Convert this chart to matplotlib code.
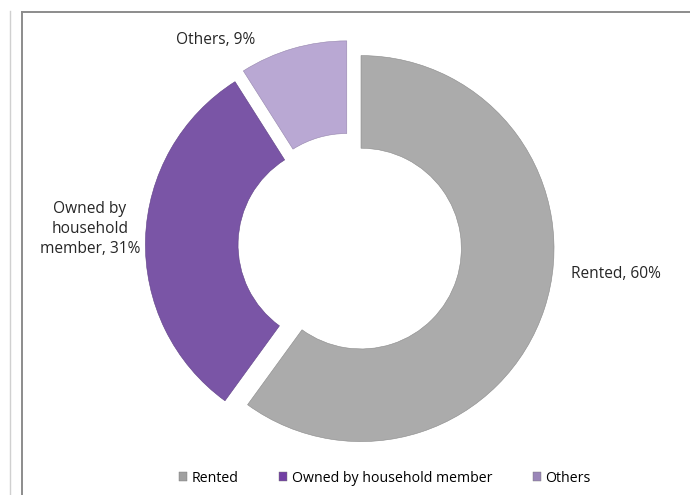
import matplotlib
matplotlib.use("Agg")
import matplotlib.pyplot as plt
from matplotlib.lines import Line2D
from matplotlib.patches import Patch

categories = ["Rented", "Owned by household member", "Others"]
shares = [60, 31, 9]
label_texts = ["Rented, 60%", "Owned by\nhousehold\nmember, 31%", "Others, 9%"]
colors = ["#ABABAB", "#7A55A6", "#B9A8D3"]
legend_colors = ["#A0A0A0", "#7240A4", "#9A86B8"]

plt.rcParams["font.family"] = ["Open Sans", "DejaVu Sans"]

W, H = 690, 495
fig = plt.figure(figsize=(W / 100, H / 100), dpi=100)

# donut centre at (350, 245) px, outer radius 193 px
cx, cy, rpx = 350, 245, 193
half = 230
ax = fig.add_axes([(cx - half) / W, (H - cy - half) / H, 2 * half / W, 2 * half / H])
lim = half / rpx

wedges, _ = ax.pie(
    shares,
    colors=colors,
    startangle=90,
    counterclock=False,
    explode=[0.06, 0.06, 0.06],
    radius=1.0,
    wedgeprops=dict(width=0.48, edgecolor="#8a8a8a", linewidth=0.4),
    frame=True,
)
ax.set_xlim(-lim, lim)
ax.set_ylim(-lim, lim)
ax.set_aspect("equal")
ax.axis("off")
wedges[1].set_edgecolor("#5e3f85")
wedges[2].set_edgecolor("#9585ad")


def px2data(px, py):
    return (px - cx) / rpx, (cy - py) / rpx


label_pos = [(616, 274), (90, 229), (216, 40)]
for txt, (px, py) in zip(label_texts, label_pos):
    x, y = px2data(px, py)
    ax.text(x, y, txt, ha="center", va="center", fontsize=11.2,
            color="#262626", linespacing=1.3)

handles = [Patch(facecolor=c, edgecolor="#777777", linewidth=0.3) for c in legend_colors]
fig.legend(handles, categories, loc="center", bbox_to_anchor=(385 / W, 1 - 478 / H),
           ncol=3, frameon=False, fontsize=10.2, handlelength=0.55, handleheight=0.55,
           handletextpad=0.3, columnspacing=2.9)

# chart frame and neighbouring panel edge
fig.add_artist(Line2D([22 / W, 22 / W], [0, 1 - 12 / H], transform=fig.transFigure,
                      color="#8c8c8c", linewidth=1.4))
fig.add_artist(Line2D([22 / W, 1], [1 - 12 / H, 1 - 12 / H], transform=fig.transFigure,
                      color="#8c8c8c", linewidth=1.4))
fig.add_artist(Line2D([10 / W, 10 / W], [0, 1 - 11 / H], transform=fig.transFigure,
                      color="#d0d0d0", linewidth=1.0))

fig.savefig("out.png", dpi=100)
